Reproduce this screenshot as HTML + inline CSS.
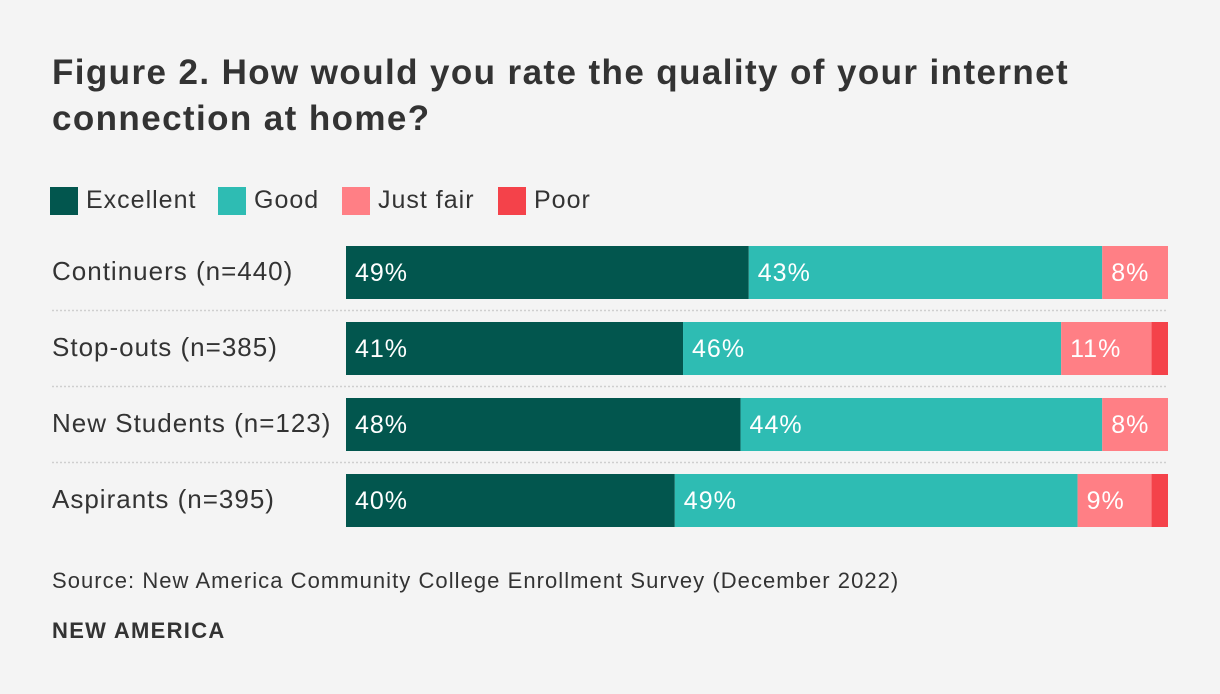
<!DOCTYPE html>
<html><head><meta charset="utf-8"><style>
body{margin:0;background:#f4f4f4;font-family:"Liberation Sans",sans-serif;}
#wrap{position:relative;width:1220px;height:694px;background:#f4f4f4;overflow:hidden}
h1{position:absolute;left:52px;top:50px;margin:0;font-size:35px;line-height:46px;font-weight:bold;color:#333;width:1120px;letter-spacing:1.4px}
.leg{position:absolute;top:186px;font-size:25px;color:#333;display:flex;align-items:center;letter-spacing:1px}
.sw{width:28px;height:28px;margin-right:8px}
.lab{position:absolute;left:52px;font-size:26px;color:#333;letter-spacing:1px}
.src{position:absolute;left:52px;top:568px;font-size:22px;color:#333;letter-spacing:1.05px}
.brand{position:absolute;left:52px;top:618px;font-size:22px;font-weight:bold;color:#333;letter-spacing:1.3px}
</style></head><body>
<div id="wrap">
<h1>Figure 2. How would you rate the quality of your internet<br>connection at home?</h1>
<div class="leg" style="left:50px"><div class="sw" style="background:#02564e"></div>Excellent</div>
<div class="leg" style="left:218px"><div class="sw" style="background:#2ebcb3"></div>Good</div>
<div class="leg" style="left:342px"><div class="sw" style="background:#ff7f85"></div>Just fair</div>
<div class="leg" style="left:498px"><div class="sw" style="background:#f4424a"></div>Poor</div>
<svg id="svg" width="1220" height="694" style="position:absolute;left:0;top:0"></svg>
<div class="src">Source: New America Community College Enrollment Survey (December 2022)</div>
<div class="brand">NEW AMERICA</div>
</div>
<script>
const categories=["Continuers (n=440)","Stop-outs (n=385)","New Students (n=123)","Aspirants (n=395)"];
const excellent=[49,41,48,40];
const good=[43,46,44,49];
const justFair=[8,11,8,9];
const poor=[0,2,0,2];
const seriesNames=["excellent","good","just-fair","poor"];
const colors=["#02564e","#2ebcb3","#ff7f85","#f4424a"];
const X0=346,W=822,Y0=246,STEP=76,BH=53;
const x=v=>X0+v/100*W;
const y=i=>Y0+i*STEP;
const svg=document.getElementById('svg');
const NS="http://www.w3.org/2000/svg";
const wrap=document.getElementById('wrap');
const series=[excellent,good,justFair,poor];
categories.forEach((c,i)=>{
  const l=document.createElement('div');
  l.className='lab';l.style.top=(y(i)+10)+'px';l.textContent=c;
  
  
  wrap.appendChild(l);
  if(i>0){
    const ln=document.createElementNS(NS,'line');
    ln.setAttribute('x1',52);ln.setAttribute('x2',1168);
    ln.setAttribute('y1',y(i)-11.5);ln.setAttribute('y2',y(i)-11.5);
    ln.setAttribute('stroke','#cfcfcf');ln.setAttribute('stroke-width','1.5');ln.setAttribute('stroke-dasharray','2,2');
    
    
    svg.appendChild(ln);
  }
  let acc=0;
  series.forEach((s,k)=>{
    const v=s[i];if(v<=0)return;
    const r=document.createElementNS(NS,'rect');
    r.setAttribute('x',x(acc));r.setAttribute('y',y(i));
    r.setAttribute('width',x(acc+v)-x(acc));r.setAttribute('height',BH);
    r.setAttribute('fill',colors[k]);
    
    
    svg.appendChild(r);
    if(v>=5){
      const t=document.createElementNS(NS,'text');
      t.setAttribute('x',x(acc)+9);t.setAttribute('y',y(i)+35);
      t.setAttribute('fill','#fff');t.setAttribute('font-size','25');
      t.setAttribute('letter-spacing','1');
      t.setAttribute('font-family','Liberation Sans, sans-serif');
      t.textContent=v+'%';
      
      
      svg.appendChild(t);
    }
    acc+=v;
  });
});
</script>
</body></html>
